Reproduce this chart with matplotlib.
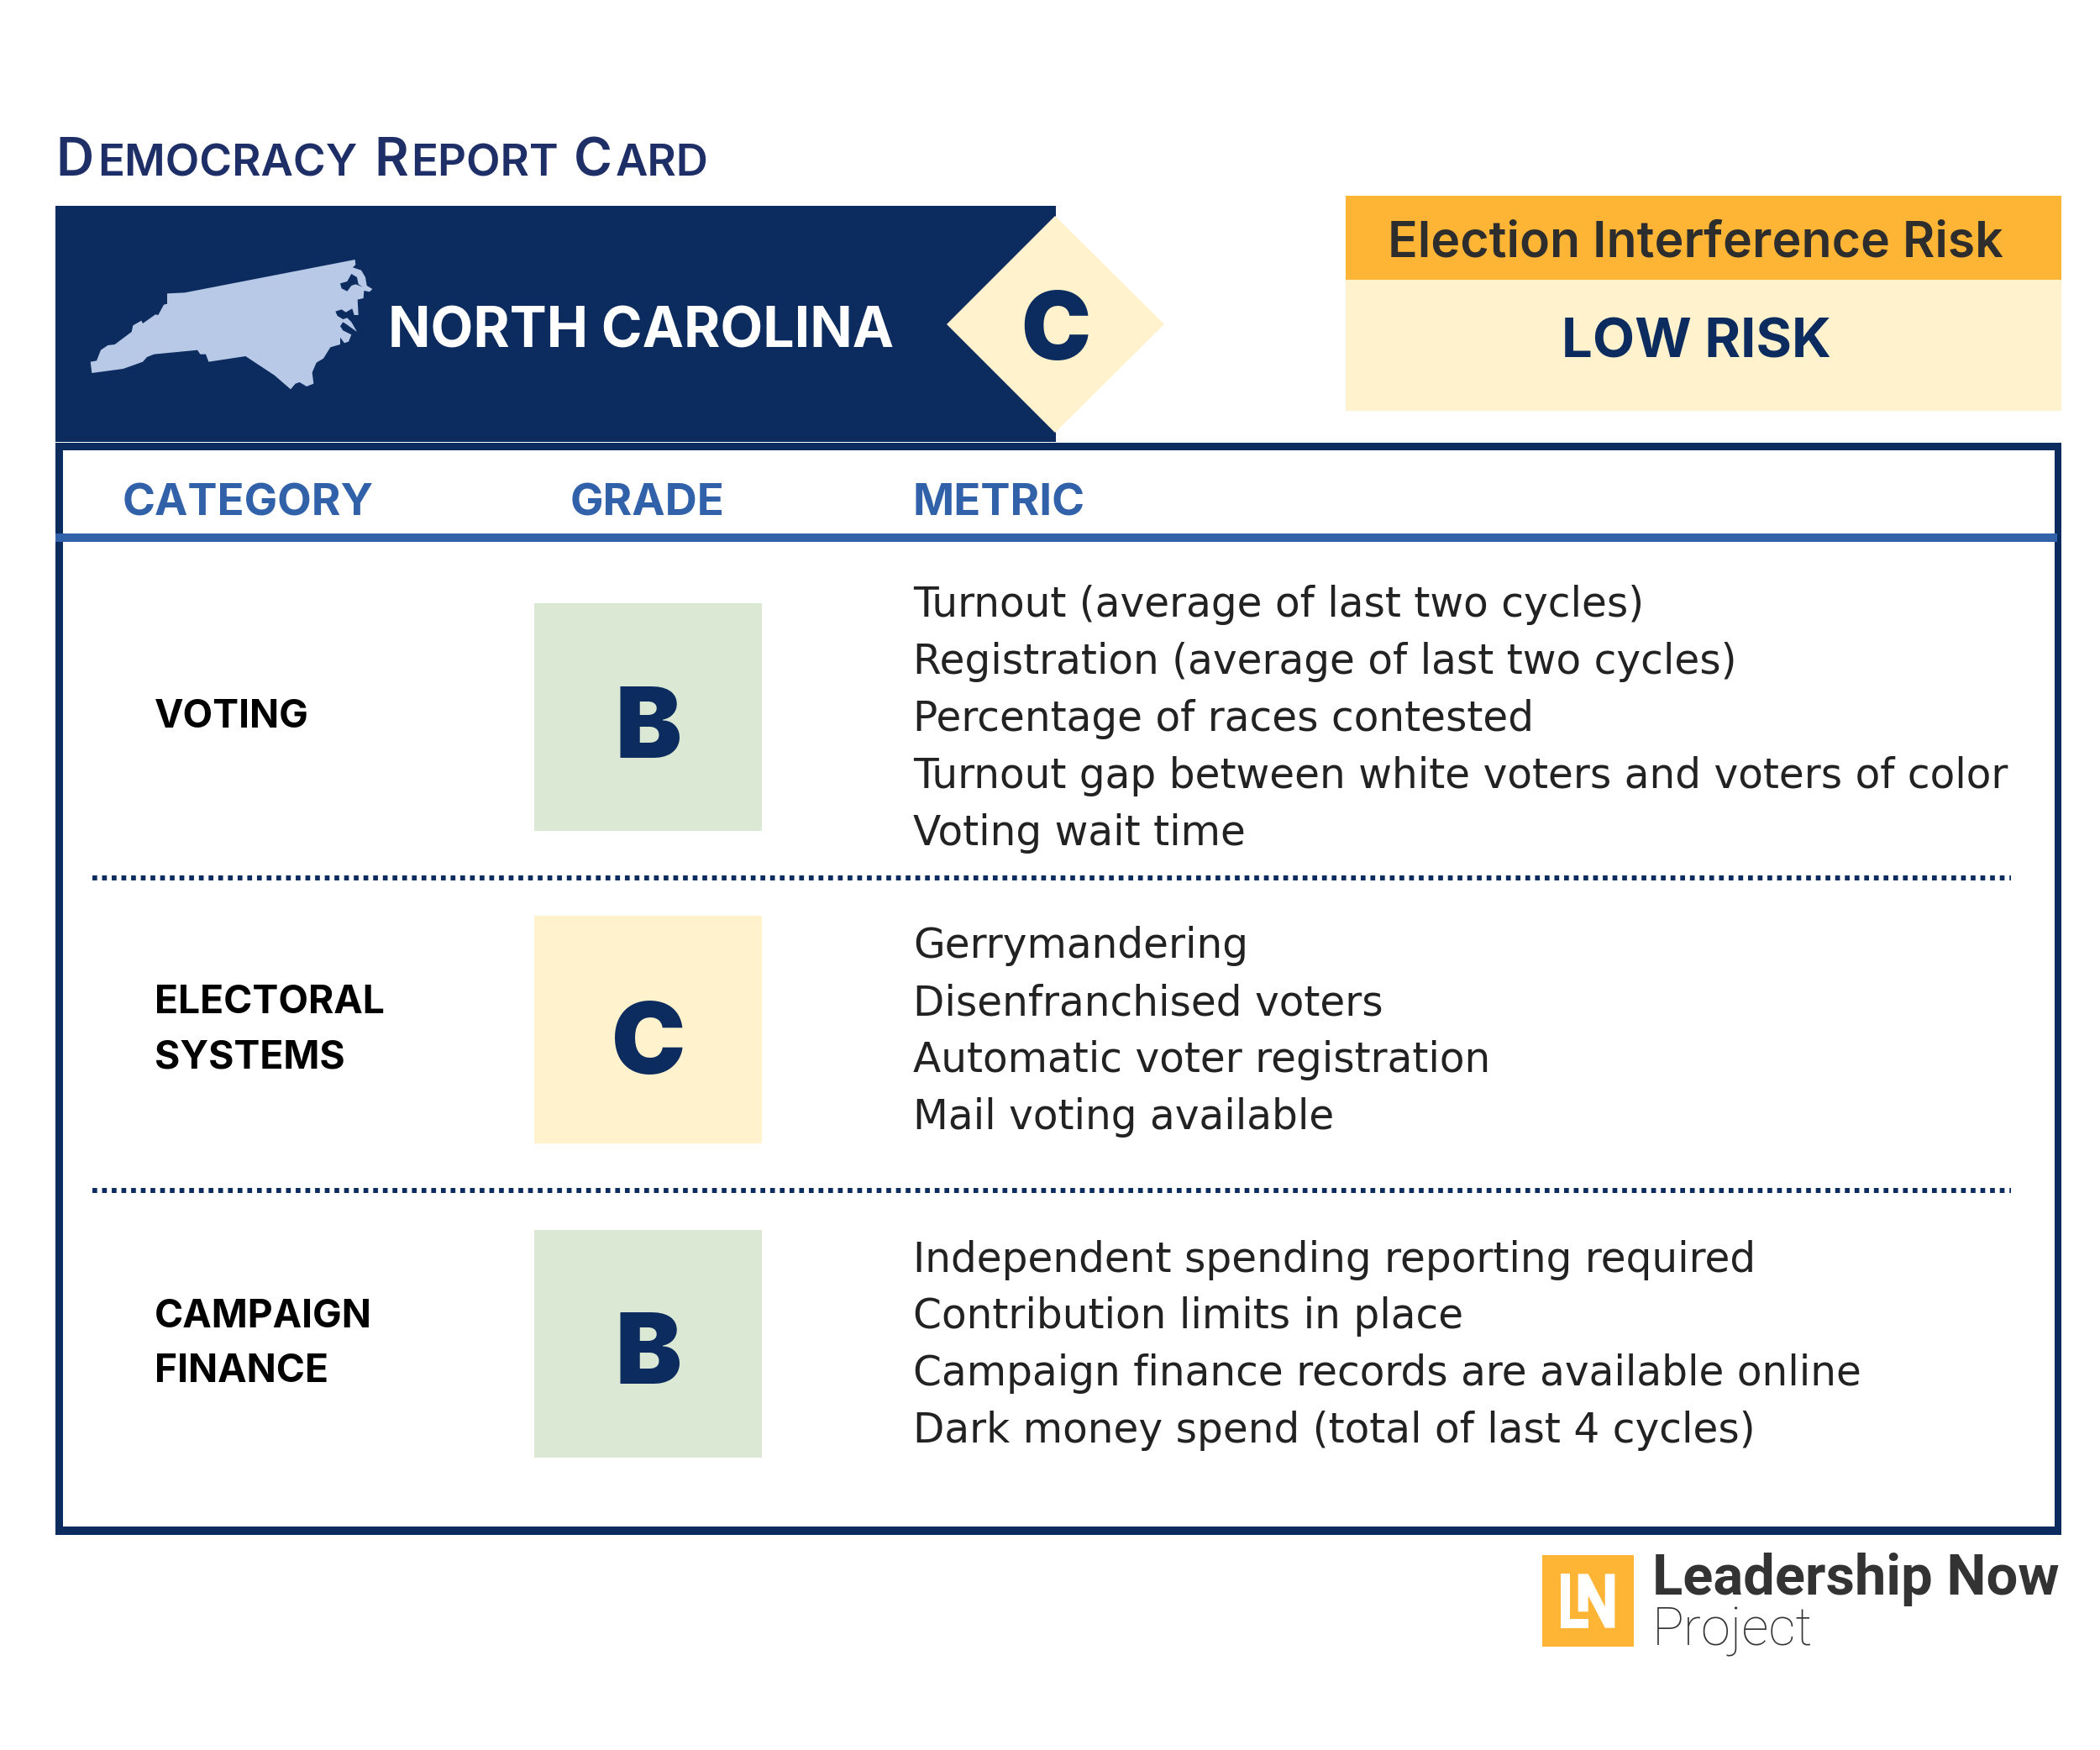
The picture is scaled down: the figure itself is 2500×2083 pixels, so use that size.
import matplotlib
matplotlib.use("Agg")
import matplotlib.pyplot as plt
from matplotlib.patches import Rectangle, Polygon

NAVY = "#0c2c5f"
TITLE = "#1d2f66"
BLUE = "#3161a9"
CREAM = "#fff2cc"
GREEN = "#dbe9d4"
ORANGE = "#feb536"
STATE = "#b7c9e6"

categories = [["VOTING"], ["ELECTORAL", "SYSTEMS"], ["CAMPAIGN", "FINANCE"]]
grades = ["B", "C", "B"]
metrics = [
    ["Turnout (average of last two cycles)",
     "Registration (average of last two cycles)",
     "Percentage of races contested",
     "Turnout gap between white voters and voters of color",
     "Voting wait time"],
    ["Gerrymandering",
     "Disenfranchised voters",
     "Automatic voter registration",
     "Mail voting available"],
    ["Independent spending reporting required",
     "Contribution limits in place",
     "Campaign finance records are available online",
     "Dark money spend (total of last 4 cycles)"],
]

# crop coordinates
state_outline = [(1088,207),(1090,225),(1080,235),(1110,245),(1125,270),(1130,300),(1150,312),(1140,322),
    (1120,318),(1118,345),(1097,350),(1100,405),(1085,405),(1078,382),(1055,395),(1040,385),(1018,392),
    (1025,408),(1045,420),(1060,415),(1075,430),(1095,465),(1060,440),(1045,430),(1035,445),(1045,460),
    (1075,475),(1065,500),(1050,505),(1035,485),(1035,510),(1000,520),(975,560),(950,575),(935,610),
    (940,650),(915,660),(890,645),(875,650),(858,670),(800,620),(697,552),(565,572),(555,545),(535,545),
    (525,530),(370,545),(345,555),(330,572),(260,597),(148,612),(143,572),(165,568),(180,530),(205,513),
    (230,510),(290,465),(295,442),(325,425),(330,435),(375,403),(385,405),(405,368),(417,365),(417,328),
    (480,325)]
state_sound = [(1035,292),(1060,285),(1075,258),(1095,270),(1100,295),(1115,305),(1090,295),(1075,300),
    (1060,320),(1040,310)]
logo_l = [(130,220),(155,220),(155,382),(203,382),(203,413),(130,413)]
logo_n = [(176,220),(203,220),(248,338),(248,220),(274,220),(274,413),(248,413),(203,298),(203,355),(176,355)]

plt.rcParams['font.family'] = ['Inter', 'DejaVu Sans']

fig = plt.figure(figsize=(25, 20.83), dpi=100)
ax = fig.add_axes([0, 0, 1, 1])
ax.set_xlim(0, 2500)
ax.set_ylim(2083, 0)
ax.axis("off")


def box(x0, y0, x1, y1, color, z=1):
    ax.add_patch(Rectangle((x0, y0), x1 - x0, y1 - y0, fc=color, ec="none", zorder=z))


def crop(points, ox, oy, sx=1 / 3, sy=1 / 3):
    return [(ox + px * sx, oy + py * sy) for px, py in points]


# title, big and small caps
for x, part, size in [(66, "D", 45), (116, "EMOCRACY", 38), (445, "R", 45), (489, "EPORT", 38),
                      (683, "C", 45), (733, "ARD", 38)]:
    ax.text(x, 209, part, color=TITLE, fontsize=size, va="baseline", fontweight="semibold")

# header band
box(66, 245, 1257, 526, NAVY)
ax.add_patch(Polygon([(1127, 386), (1256, 257), (1386, 386), (1256, 515)], fc=CREAM, ec="none", zorder=2))
ax.add_patch(Polygon(crop(state_outline, 60, 240), fc=STATE, ec="none", zorder=2))
ax.add_patch(Polygon(crop(state_sound, 60, 240), fc=NAVY, ec="none", zorder=3))
ax.text(462, 414, "NORTH CAROLINA", color="white", fontsize=47.6, va="baseline", fontweight="bold")
ax.text(1257, 428, "C", color=NAVY, fontsize=80, va="baseline", ha="center", fontweight="black")

# risk box
box(1602, 233, 2454, 333, ORANGE)
box(1602, 333, 2454, 489, CREAM)
ax.text(2018, 306, "Election Interference Risk", color="#2d2d2d", fontsize=42.5, va="baseline", ha="center", fontweight="semibold")
ax.text(2019, 426, "LOW RISK", color=NAVY, fontsize=47, va="baseline", ha="center", fontweight="bold")

# table frame
box(66, 527, 2454, 1827, NAVY, z=1)
box(75, 536, 2446, 1817, "white", z=1.5)
box(66, 635, 2449, 645, BLUE, z=2)
ax.text(146, 613, "CATEGORY", color=BLUE, fontsize=38, va="baseline", fontweight="bold")
ax.text(771, 613, "GRADE", color=BLUE, fontsize=38, va="baseline", ha="center", fontweight="bold")
ax.text(1087, 613, "METRIC", color=BLUE, fontsize=38, va="baseline", fontweight="bold")

rows_top = [718, 1090, 1464]
grade_base = [902, 1278, 1647]
metric_base = [734, 1140.5, 1513.5]
cat_base = [[866], [1206, 1272], [1580, 1645]]
fills = [GREEN, CREAM, GREEN]
for i in range(3):
    box(636, rows_top[i], 907, rows_top[i] + 271, fills[i], z=2)
    ax.text(772, grade_base[i], grades[i], color=NAVY, fontsize=85, va="baseline", ha="center", fontweight="black", zorder=3)
    for line, y in zip(categories[i], cat_base[i]):
        ax.text(184, y, line, color="black", fontsize=33.3, va="baseline", fontweight="bold")
    for j, line in enumerate(metrics[i]):
        ax.text(1087, metric_base[i] + j * 67.9, line, color="#222222", fontsize=35, va="baseline", family="DejaVu Sans")

for y in (1045, 1417):
    ax.plot([110, 2394], [y, y], color=NAVY, lw=4.3, ls=(0, (0.95, 0.98)), zorder=2)

# logo
box(1836, 1851, 1945, 1960, ORANGE)
lx, ly = 1836 - 80 * 0.445, 1851 - 153 / 3
ax.add_patch(Polygon(crop(logo_l, lx, ly, 0.445, 1 / 3), fc="white", ec="none", zorder=2))
ax.add_patch(Polygon(crop(logo_n, lx, ly, 0.445, 1 / 3), fc="white", ec="none", zorder=2))
ax.text(1967, 1898, "Leadership Now", color="#333333", fontsize=48.2, va="baseline", family="Roboto", fontweight="bold")
ax.text(1967, 1959, "Project", color="#333333", fontsize=45.5, va="baseline", family="Roboto", fontweight="light")

fig.savefig("out.png", dpi=100, facecolor="white")
